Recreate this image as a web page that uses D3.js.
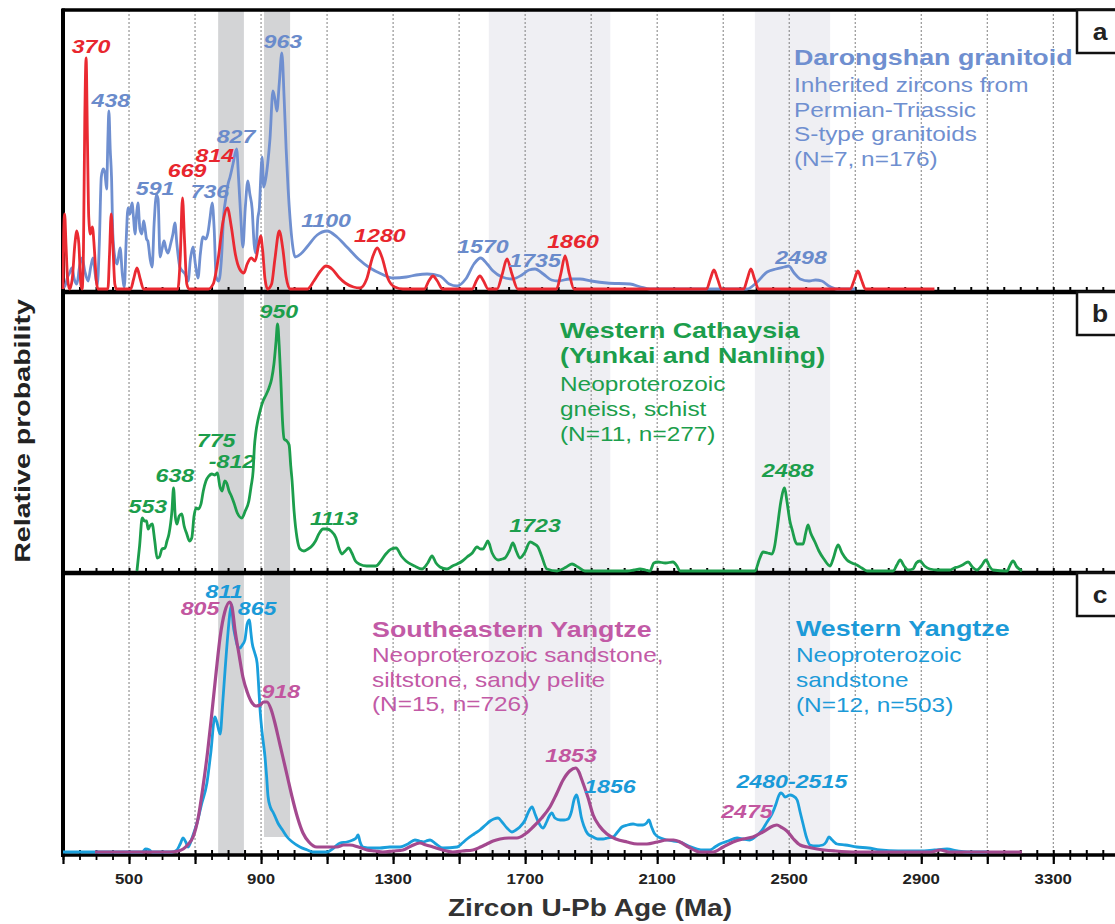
<!DOCTYPE html>
<html>
<head>
<meta charset="utf-8">
<script src="https://cdn.jsdelivr.net/npm/d3@7"></script>
<style>
  body { margin: 0; background: #fff; }
  svg { display: block; }
</style>
</head>
<body>
<div id="chart"></div>
<script>
// zircon U-Pb age spectra (age in Ma, relative probability)

var panelA_blue = [[300,1],[306,3],[314,12],[320,16],[327,21],[334,10],[342,5],[350,22],[358,31],[366,18],[376,8],[384,22],[391,31],[398,14],[404,4],[410,45],[416,112],[422,120],[427,116],[432,100],[436,150],[439,178],[443,140],[447,112],[451,55],[458,30],[464,25],[473,41],[480,14],[486,2],[491,45],[497,81],[503,75],[509,86],[514,70],[518,55],[523,75],[527,86],[533,60],[539,55],[544,68],[548,62],[553,50],[557,48],[564,30],[570,22],[576,65],[583,94],[588,90],[594,32],[600,40],[606,48],[612,40],[618,36],[626,45],[633,55],[639,66],[645,45],[654,22],[662,18],[670,15],[679,8],[686,30],[694,42],[701,25],[709,11],[716,35],[724,52],[732,50],[739,56],[745,70],[752,86],[758,60],[764,12],[772,8],[780,30],[787,75],[793,90],[800,105],[806,112],[815,125],[826,140],[832,110],[838,75],[845,42],[852,80],[860,108],[866,95],[873,80],[879,45],[884,36],[890,70],[895,82],[900,118],[903,132],[908,102],[914,110],[920,125],[927,150],[936,198],[942,190],[948,178],[955,205],[963,236],[970,190],[976,140],[982,100],[988,70],[995,45],[1003,32],[1020,35],[1039,42],[1070,54],[1100,58],[1130,52],[1160,42],[1195,30],[1230,21],[1265,15],[1300,11],[1340,12],[1370,14],[1403,15],[1442,13],[1470,5],[1494,3],[1520,10],[1545,25],[1565,31],[1585,25],[1603,18],[1630,12],[1660,10],[1690,14],[1712,19],[1730,20],[1755,15],[1780,9],[1800,8],[1835,10],[1866,10],[1900,8],[1948,6],[2018,5],[2050,2],[2078,0],[2372,0],[2400,6],[2433,17],[2460,20],[2485,22],[2498,23],[2515,16],[2533,10],[2560,8],[2580,9],[2599,8],[2620,3],[2645,0],[2700,0]];

var panelA_red = [[300,0],[302,55],[305,75],[309,45],[314,10],[320,0],[328,10],[336,45],[342,58],[348,45],[354,5],[358,0],[362,40],[366,170],[370,231],[374,150],[378,72],[383,55],[389,62],[395,40],[401,8],[406,0],[436,0],[441,35],[446,75],[451,45],[457,5],[462,0],[505,0],[514,10],[524,21],[534,10],[544,0],[648,0],[655,30],[662,91],[668,50],[675,5],[682,0],[740,0],[755,5],[770,30],[785,68],[798,81],[810,62],[822,35],[835,20],[848,16],[858,25],[870,31],[882,28],[893,45],[899,53],[905,38],[912,10],[920,0],[932,5],[942,30],[955,58],[966,40],[976,12],[988,0],[1040,0],[1060,8],[1080,18],[1097,23],[1115,20],[1135,12],[1155,6],[1180,2],[1200,1],[1220,10],[1238,32],[1252,41],[1266,32],[1285,10],[1305,2],[1330,0],[1395,0],[1408,8],[1421,13],[1434,8],[1450,0],[1540,0],[1552,8],[1563,13],[1574,8],[1588,0],[1615,0],[1630,14],[1645,30],[1660,15],[1678,0],[1795,0],[1808,15],[1821,33],[1834,15],[1848,0],[2250,0],[2261,10],[2272,19],[2283,10],[2295,0],[2362,0],[2373,10],[2384,20],[2395,10],[2407,0],[2685,0],[2697,9],[2708,18],[2719,9],[2731,0],[2940,0]];

var panelB_green = [[524,0],[532,25],[540,53],[547,50],[553,50],[558,42],[563,45],[570,47],[578,30],[585,13],[592,14],[600,22],[609,23],[615,30],[621,37],[630,60],[635,83],[640,55],[645,47],[652,55],[660,57],[667,45],[675,37],[683,30],[690,33],[697,55],[703,63],[710,62],[718,67],[725,80],[733,90],[742,95],[751,97],[760,96],[768,98],[775,85],[782,80],[790,90],[796,88],[803,80],[810,75],[818,68],[828,58],[842,53],[852,60],[863,70],[870,85],[876,100],[880,125],[884,138],[890,150],[897,160],[906,170],[915,176],[924,183],[932,192],[939,207],[945,228],[950,247],[955,225],[960,190],[965,150],[970,132],[978,130],[985,126],[990,105],[994,90],[1000,60],[1009,33],[1018,22],[1030,20],[1042,22],[1054,25],[1065,30],[1075,37],[1088,42],[1100,42],[1112,40],[1127,33],[1137,22],[1145,17],[1155,20],[1165,23],[1175,18],[1186,10],[1197,7],[1220,5],[1248,5],[1263,10],[1278,17],[1295,22],[1309,23],[1325,15],[1339,10],[1365,5],[1388,2],[1405,8],[1418,15],[1430,8],[1442,4],[1463,2],[1480,5],[1494,7],[1510,10],[1524,14],[1540,18],[1554,24],[1565,22],[1572,22],[1580,26],[1587,30],[1600,18],[1618,11],[1630,12],[1639,13],[1652,20],[1663,28],[1673,20],[1684,13],[1698,18],[1715,29],[1728,27],[1739,24],[1750,15],[1766,2],[1797,0],[1825,4],[1842,7],[1860,4],[1881,0],[2009,0],[2030,1],[2048,2],[2065,1],[2078,0],[2090,8],[2102,9],[2125,8],[2148,9],[2160,5],[2169,0],[2396,0],[2410,12],[2421,19],[2435,18],[2448,17],[2456,25],[2463,41],[2475,70],[2486,83],[2493,70],[2502,50],[2510,40],[2518,30],[2524,27],[2533,27],[2542,27],[2550,38],[2557,46],[2565,38],[2578,29],[2590,20],[2605,12],[2624,5],[2633,12],[2648,26],[2660,18],[2675,11],[2690,8],[2705,6],[2720,3],[2736,0],[2815,0],[2826,6],[2836,11],[2848,5],[2860,1],[2875,2],[2885,8],[2896,10],[2910,5],[2926,2],[2950,1],[2987,1],[3000,3],[3011,4],[3025,6],[3042,9],[3055,4],[3069,1],[3082,5],[3096,11],[3108,4],[3117,1],[3160,0],[3168,5],[3178,10],[3190,4],[3205,0]];

var panelC_cyan = [[300,0],[540,0],[550,3],[562,2],[570,0],[630,0],[645,2],[655,8],[664,14],[672,10],[679,5],[692,15],[706,29],[720,48],[736,69],[748,100],[760,135],[766,130],[776,118],[784,150],[791,182],[800,220],[806,240],[811,247],[815,229],[822,215],[830,205],[836,204],[843,207],[851,212],[858,228],[865,232],[869,220],[873,209],[880,200],[888,189],[892,170],[897,142],[903,120],[912,95],[917,75],[921,56],[928,45],[936,40],[943,35],[951,29],[965,22],[979,15],[995,10],[1018,5],[1040,2],[1057,0],[1100,0],[1120,4],[1139,9],[1160,10],[1178,12],[1188,14],[1194,17],[1200,10],[1209,5],[1235,4],[1260,4],[1290,5],[1321,5],[1345,8],[1366,12],[1380,11],[1391,10],[1400,11],[1412,12],[1430,8],[1451,4],[1494,5],[1510,9],[1524,13],[1545,18],[1563,22],[1580,27],[1594,31],[1605,33],[1618,34],[1630,30],[1645,24],[1660,20],[1672,22],[1684,25],[1700,32],[1710,40],[1721,45],[1730,38],[1740,30],[1754,24],[1765,30],[1773,36],[1781,39],[1790,34],[1806,32],[1818,32],[1830,33],[1840,40],[1848,52],[1856,57],[1863,48],[1870,35],[1878,26],[1890,18],[1906,15],[1920,13],[1936,13],[1950,14],[1966,15],[1980,20],[1993,25],[2010,27],[2027,28],[2042,27],[2057,27],[2068,29],[2075,32],[2082,26],[2093,18],[2110,14],[2130,12],[2150,11],[2169,10],[2195,6],[2221,3],[2240,2],[2260,2],[2275,5],[2290,8],[2315,11],[2342,14],[2360,13],[2381,12],[2400,16],[2418,22],[2433,30],[2448,38],[2460,48],[2468,56],[2474,59],[2480,58],[2487,55],[2495,56],[2502,57],[2512,56],[2524,52],[2533,40],[2542,28],[2552,15],[2563,7],[2580,6],[2602,7],[2612,10],[2620,15],[2630,12],[2645,8],[2670,7],[2705,5],[2740,4],[2775,2],[2830,1],[2896,1],[2940,2],[2978,3],[3010,1],[3039,0],[3100,0]];

var panelC_magenta = [[397,0],[624,0],[650,1],[664,3],[680,8],[694,15],[710,35],[724,65],[738,100],[751,139],[764,180],[776,215],[790,240],[805,250],[813,243],[821,222],[833,198],[845,175],[858,160],[873,149],[885,146],[897,147],[908,150],[918,150],[930,143],[942,129],[954,112],[966,95],[980,75],[994,55],[1010,35],[1027,19],[1045,10],[1069,5],[1100,5],[1130,5],[1150,7],[1169,7],[1195,5],[1221,2],[1245,1],[1269,0],[1300,1],[1330,2],[1355,6],[1381,9],[1400,7],[1421,5],[1450,2],[1481,0],[1510,1],[1542,2],[1565,5],[1584,8],[1603,11],[1624,13],[1650,14],[1675,14],[1700,18],[1724,25],[1750,34],[1775,45],[1795,58],[1815,72],[1835,81],[1853,84],[1863,80],[1872,72],[1890,55],[1906,37],[1925,26],[1948,18],[1975,13],[2009,10],[2040,8],[2069,8],[2100,10],[2130,12],[2150,12],[2169,10],[2195,5],[2230,0],[2269,0],[2300,5],[2330,10],[2360,13],[2390,15],[2420,20],[2451,26],[2463,27],[2475,25],[2493,21],[2513,13],[2533,7],[2555,5],[2584,3],[2640,1],[2705,0],[2930,0],[2957,2],[2985,0],[3205,0]];

// peak annotations: [label, age, relative probability]
var panelA_redPeaks = [["370",385,236],["669",676,112],["814",760,127],["1280",1260,47],["1860",1845,41]];
var panelA_bluePeaks = [["438",445,182],["591",579,94],["736",745,91],["827",824,146],["963",966,241],["1100",1097,62],["1570",1572,36],["1735",1730,22],["2498",2536,25]];
var panelB_greenPeaks = [["553",557,58],["638",639,89],["775",764,124],["-812",812,103],["950",954,253],["1113",1121,46],["1723",1730,39],["2488",2496,94]];
var panelC_cyanPeaks = [["811",788,254],["865",888,237],["1856",1957,59],["2480-2515",2508,64]];
var panelC_magentaPeaks = [["805",715,237],["918",960,154],["1853",1839,90],["2475",2372,34]];

var gridAges = [500,700,900,1100,1300,1500,1700,1900,2100,2300,2500,2700,2900,3100,3300];
var majorTickAges = [300,500,700,900,1100,1300,1500,1700,1900,2100,2300,2500,2700,2900,3100,3300,3500];
var xTickLabels = [500,900,1300,1700,2100,2500,2900,3300];
var darkBands = [[770,848],[909,988]];
var lightBands = [[1590,1958],[2396,2624]];

var width = 1115, height = 924;
var SX = 1.22;
var FONT = "'Liberation Sans', Arial, Helvetica, sans-serif";

var svg = d3.select("#chart").append("svg")
    .attr("width", width)
    .attr("height", height);

var x = d3.scaleLinear()
    .domain([300, 3500])
    .range([63, 1119.3]);

var panels = [
    {letter:"a", top:10, bottom:292, base:289,
     series:[{data:panelA_blue, color:"#6f8fd0", w:2.8}, {data:panelA_red, color:"#ea2a32", w:2.8}],
     peaks:[{list:panelA_bluePeaks, color:"#6a8bcb"}, {list:panelA_redPeaks, color:"#e8262e"}]},
    {letter:"b", top:292, bottom:573, base:571,
     series:[{data:panelB_green, color:"#1c9e4c", w:2.8}],
     peaks:[{list:panelB_greenPeaks, color:"#1c9e4c"}]},
    {letter:"c", top:573, bottom:855, base:852,
     series:[{data:panelC_cyan, color:"#1a9fdc", w:2.8}, {data:panelC_magenta, color:"#a4498f", w:3.2}],
     peaks:[{list:panelC_cyanPeaks, color:"#1a9ad8"}, {list:panelC_magentaPeaks, color:"#c2569f"}]}
];

function addText(parent, px, py, str, o) {
    return parent.append("text")
        .attr("transform", "translate(" + px + "," + py + ") " + (o.rotate ? "rotate(" + o.rotate + ") " : "") + "scale(" + (o.sx || SX) + ",1)")
        .attr("text-anchor", o.anchor || "start")
        .attr("font-family", FONT)
        .attr("font-size", o.size + "px")
        .attr("font-weight", o.weight || "normal")
        .attr("font-style", o.style || "normal")
        .attr("fill", o.color || "#222")
        .text(str);
}

// bands
panels.forEach(function(p, i) {
    var g = svg.append("g").attr("class", "bands");
    lightBands.forEach(function(b) {
        g.append("rect")
            .attr("x", x(b[0])).attr("y", p.top)
            .attr("width", x(b[1]) - x(b[0])).attr("height", p.bottom - p.top)
            .attr("fill", "#efeff3");
    });
    darkBands.forEach(function(b, j) {
        var bot = (i == 2 && j == 1) ? 837 : p.bottom;
        g.append("rect")
            .attr("x", x(b[0])).attr("y", p.top)
            .attr("width", x(b[1]) - x(b[0])).attr("height", bot - p.top)
            .attr("fill", "#d3d4d6");
    });
});

// dotted grid
svg.append("g").selectAll("line")
    .data(gridAges)
    .enter().append("line")
    .attr("x1", function(d) { return x(d); })
    .attr("x2", function(d) { return x(d); })
    .attr("y1", 10).attr("y2", 855)
    .attr("stroke", "#7f7f7f")
    .attr("stroke-width", 1)
    .attr("stroke-dasharray", "2,2");

// frame
var frame = svg.append("g").attr("stroke", "#000");
frame.append("line").attr("x1", 62).attr("x2", width).attr("y1", 10).attr("y2", 10).attr("stroke-width", 3.5);
frame.append("line").attr("x1", 62).attr("x2", width).attr("y1", 292).attr("y2", 292).attr("stroke-width", 4.5);
frame.append("line").attr("x1", 62).attr("x2", width).attr("y1", 573).attr("y2", 573).attr("stroke-width", 4.5);
frame.append("line").attr("x1", 62).attr("x2", width).attr("y1", 855).attr("y2", 855).attr("stroke-width", 3.5);
frame.append("line").attr("x1", 63).attr("x2", 63).attr("y1", 8.5).attr("y2", 857).attr("stroke-width", 4);

// small inward ticks on every panel floor
var minorAges = d3.range(300, 3501, 50);
panels.forEach(function(p) {
    var inner = d3.axisTop(x).tickValues(minorAges).tickSize(5).tickFormat("");
    var ga = svg.append("g")
        .attr("transform", "translate(0," + p.bottom + ")")
        .call(inner);
    ga.select(".domain").remove();
    ga.selectAll("line").attr("stroke", "#000").attr("stroke-width", 2);
});

// bottom axis
var minorAxis = d3.axisBottom(x).tickValues(minorAges).tickSize(5).tickFormat("");
var gm = svg.append("g").attr("transform", "translate(0,855)").call(minorAxis);
gm.select(".domain").remove();
gm.selectAll("line").attr("stroke", "#000").attr("stroke-width", 1.8);

var majorAxis = d3.axisBottom(x).tickValues(majorTickAges).tickSize(9).tickFormat("");
var gM = svg.append("g").attr("transform", "translate(0,855)").call(majorAxis);
gM.select(".domain").remove();
gM.selectAll("line").attr("stroke", "#000").attr("stroke-width", 2.2);

xTickLabels.forEach(function(d) {
    addText(svg, x(d), 884, d, {size:15, weight:"bold", anchor:"middle", color:"#222", sx:1.12});
});

// curves
panels.forEach(function(p) {
    var y = d3.scaleLinear().domain([0, 280]).range([p.base, p.base - 280]);
    var line = d3.line()
        .x(function(d) { return x(d[0]); })
        .y(function(d) { return y(d[1]); })
        .curve(d3.curveMonotoneX);
    p.series.forEach(function(s) {
        svg.append("path")
            .datum(s.data)
            .attr("d", line)
            .attr("fill", "none")
            .attr("stroke", s.color)
            .attr("stroke-width", s.w)
            .attr("stroke-linejoin", "round");
    });
    p.peaks.forEach(function(pk) {
        pk.list.forEach(function(d) {
            addText(svg, x(d[1]), y(d[2]), d[0], {size:19, weight:"bold", style:"italic", anchor:"middle", color:pk.color});
        });
    });

    // panel letter box
    svg.append("rect")
        .attr("x", 1077).attr("y", p.top)
        .attr("width", 50).attr("height", 43)
        .attr("fill", "#fff").attr("stroke", "#111").attr("stroke-width", 2.5);
    addText(svg, 1100, p.top + 30, p.letter, {size:24, weight:"bold", anchor:"middle", color:"#222", sx:1.1});
});

// legends
function legend(px, lines, color) {
    lines.forEach(function(l) {
        addText(svg, px, l[1], l[0], {size:l[2], weight:l[3] ? "bold" : "normal", color:color});
    });
}
legend(794, [["Darongshan granitoid",65,22,1],["Inherited zircons from",92,20],["Permian-Triassic",117,20],["S-type granitoids",141,20],["(N=7, n=176)",166,20]], "#6f8fd0");
legend(560, [["Western Cathaysia",338,22,1],["(Yunkai and Nanling)",363,22,1],["Neoproterozoic",391,20],["gneiss, schist",416,20],["(N=11, n=277)",441,20]], "#1c9e4c");
legend(372, [["Southeastern Yangtze",637,22,1],["Neoproterozoic sandstone,",662,20],["siltstone, sandy pelite",687,20],["(N=15, n=726)",711,20]], "#c25aa6");
legend(796, [["Western Yangtze",636,22,1],["Neoproterozoic",662,20],["sandstone",687,20],["(N=12, n=503)",712,20]], "#1c9ad8");

// axis titles
addText(svg, 590, 916, "Zircon U-Pb Age (Ma)", {size:23, weight:"bold", anchor:"middle", color:"#333"});
addText(svg, 30, 431, "Relative probability", {size:22, weight:"bold", anchor:"middle", color:"#222", rotate:-90, sx:1.3});
</script>
</body>
</html>
